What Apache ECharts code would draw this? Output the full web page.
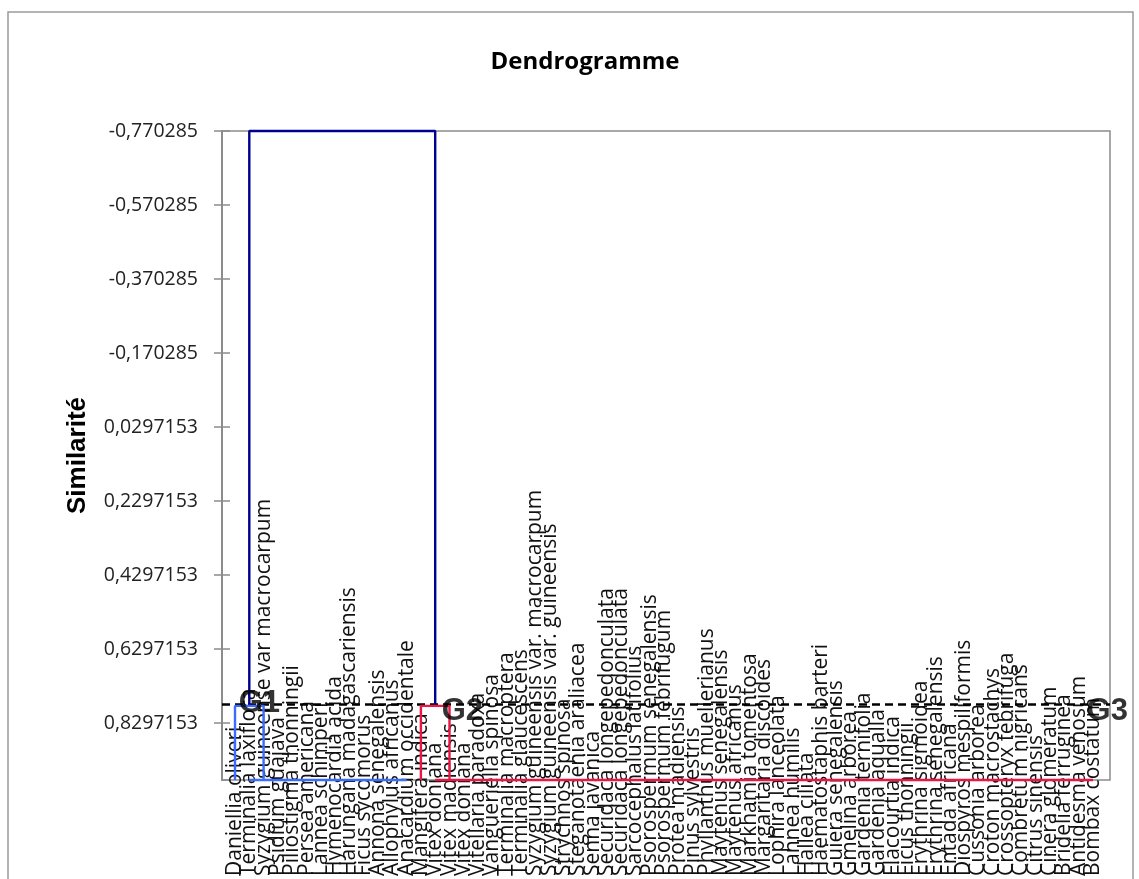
<!DOCTYPE html>
<html>
<head>
<meta charset="utf-8">
<title>Dendrogramme</title>
<script src="https://cdn.jsdelivr.net/npm/echarts@6/dist/echarts.min.js"></script>
<style>
  html, body { margin: 0; padding: 0; background: #fff; }
  #chart { width: 1139px; height: 879px; }
</style>
</head>
<body>
<div id="chart"></div>
<script>
// feuilles du dendrogramme (ordre de gauche a droite)
var leaves = [
  "Daniellia oliveri", "Terminalia laxiflora", "Syzygium guineense var macrocarpum",
  "Psidium guajava", "Piliostigma thonningii", "Persea americana", "Lannea schimperi",
  "Hymenocardia acida", "Harungana madagascariensis", "Ficus sycomorus",
  "Annona senegalensis", "Allophylus africanus", "Anacardium occidentale",
  "Mangifera indica", "Vitex doniana", "Vitex madiensis", "Vitex doniana",
  "Vitellaria paradoxa", "Vangueriella spinosa", "Terminalia macroptera",
  "Terminalia glaucescens", "Syzygium guineensis var. macrocarpum",
  "Syzygium guineensis var. guineensis", "Strychnos spinosa", "Steganotaenia araliacea",
  "Senna javanica", "Securidaca longepedonculata", "Securidaca longepedonculata",
  "Sarcocephalus latifolius", "Psorospermum senegalensis", "Psorospermum febrifugum",
  "Protea madiensis", "Pinus sylvestris", "Phyllanthus muellerianus",
  "Maytenus senegalensis", "Maytenus africanus", "Markhamia tomentosa",
  "Margaritaria discoides", "Lophira lanceolata", "Lannea humilis", "Hallea ciliata",
  "Haematostaphis barteri", "Guiera senegalensis", "Gmelina arborea",
  "Gardenia ternifolia", "Gardenia aqualla", "Flacourtia indica", "Ficus thonningii",
  "Erythrina sigmoidea", "Erythrina senegalensis", "Entada africana",
  "Diospyros mespiliformis", "Cussonia arborea", "Croton macrostachys",
  "Crossopteryx febrifuga", "Combretum nigricans", "Citrus sinensis",
  "Cinera glomeratum", "Bridelia ferruginea", "Antidesma venosum", "Bombax costatum"
];

// axe des similarites
var yMin = -0.770285;
var yMax = 0.984;
var yStep = 0.2;
var yTickLabels = [
  "-0,770285", "-0,570285", "-0,370285", "-0,170285", "0,0297153",
  "0,2297153", "0,4297153", "0,6297153", "0,8297153"
];

// niveaux des noeuds
var rootH = -0.770285;
var cutH = 0.7837;
var leafH = 0.984;

// segments [indice feuille, similarite]
var navySegments = [
  [[1, cutH], [1, rootH], [14, rootH], [14, cutH]]
];
var blueSegments = [
  [[0, leafH], [0, cutH], [2, cutH], [2, leafH]],
  [[1, leafH], [12, leafH]]
];
var redSegments = [
  [[13, leafH], [13, cutH], [15, cutH], [15, leafH]],
  [[14, leafH], [60, leafH]]
];

// etiquettes des groupes
var groupNames = ["G1", "G2", "G3"];
var groupX = [1.7, 15.9, 61.0];
var groupY = [0.778, 0.80, 0.80];

var chart = echarts.init(document.getElementById("chart"));

function segSeries(segs, color) {
  return segs.map(function (s) {
    return {
      type: "line",
      xAxisIndex: 0,
      yAxisIndex: 0,
      data: s,
      symbol: "none",
      clip: false,
      silent: true,
      z: 5,
      lineStyle: { color: color, width: 2.4 }
    };
  });
}

var series = []
  .concat(segSeries(navySegments, "#000090"))
  .concat(segSeries(blueSegments, "#3b6cff"))
  .concat(segSeries(redSegments, "#ea1744"));

// ligne de troncature
series.push({
  type: "line",
  xAxisIndex: 0,
  yAxisIndex: 0,
  data: [],
  z: 6,
  markLine: {
    silent: true,
    symbol: "none",
    label: { show: false },
    lineStyle: { color: "#000", width: 2.5, type: [8, 5] },
    data: [{ yAxis: cutH }]
  }
});

series.push({
  type: "scatter",
  xAxisIndex: 0,
  yAxisIndex: 0,
  symbolSize: 0,
  clip: false,
  z: 7,
  data: groupNames.map(function (n, i) { return [groupX[i], groupY[i], n]; }),
  label: {
    show: true,
    position: "inside",
    formatter: function (p) { return p.value[2]; },
    fontFamily: "Liberation Sans",
    fontWeight: "bold",
    fontSize: 31,
    color: "#000"
  }
});

var option = {
  animation: false,
  backgroundColor: "#fff",
  title: {
    text: "Dendrogramme",
    left: 580,
    top: 45,
    textAlign: "center",
    textStyle: { fontFamily: "Open Sans", fontWeight: "bold", fontSize: 24, color: "#000" }
  },
  graphic: [{
    type: "rect",
    shape: { x: 8, y: 12, width: 1125, height: 900 },
    style: { fill: "none", stroke: "#9a9a9a", lineWidth: 1.5 },
    silent: true
  }],
  grid: [
    { left: 222, right: 29, top: 131, bottom: 99, show: true, borderColor: "#8c8c8c", borderWidth: 1.5, outerBoundsMode: "none" },
    { left: 228, right: 39, top: 131, bottom: 99, outerBoundsMode: "none" }
  ],
  xAxis: [
    { type: "value", gridIndex: 0, min: -0.909, max: 61.19, show: false },
    {
      type: "category",
      gridIndex: 1,
      data: leaves,
      boundaryGap: true,
      axisLine: { show: false },
      axisTick: { show: false },
      axisLabel: {
        interval: 0,
        rotate: 90,
        align: "left",
        margin: 96,
        fontFamily: "Open Sans",
        fontSize: 21,
        color: "#111"
      }
    }
  ],
  yAxis: [
    {
      type: "value",
      gridIndex: 0,
      position: "left",
      inverse: true,
      min: yMin,
      max: yMax,
      interval: yStep,
      name: "Similarité",
      nameLocation: "middle",
      nameGap: 131,
      nameTextStyle: { fontFamily: "Liberation Sans", fontWeight: "bold", fontSize: 26, color: "#000" },
      axisLine: { show: true, onZero: false, lineStyle: { color: "#8c8c8c", width: 2 } },
      axisTick: { show: true, length: 8, lineStyle: { color: "#8c8c8c", width: 1.5 } },
      splitLine: { show: false },
      axisLabel: {
        showMaxLabel: false,
        margin: 24,
        fontFamily: "Open Sans",
        fontSize: 19.5,
        color: "#222",
        formatter: function (v) {
          return yTickLabels[Math.round((v - yMin) / yStep)] || "";
        }
      }
    },
    {
      type: "value",
      gridIndex: 0,
      position: "left",
      inverse: true,
      min: yMin,
      max: yMax,
      interval: yStep,
      axisLine: { show: false, onZero: false },
      axisTick: { show: true, inside: true, length: 8, lineStyle: { color: "#8c8c8c", width: 1.5 } },
      axisLabel: { show: false },
      splitLine: { show: false }
    },
    {
      type: "value",
      gridIndex: 1,
      inverse: true,
      min: yMin,
      max: yMax,
      show: false
    }
  ],
  series: series
};

chart.setOption(option);
</script>
</body>
</html>
